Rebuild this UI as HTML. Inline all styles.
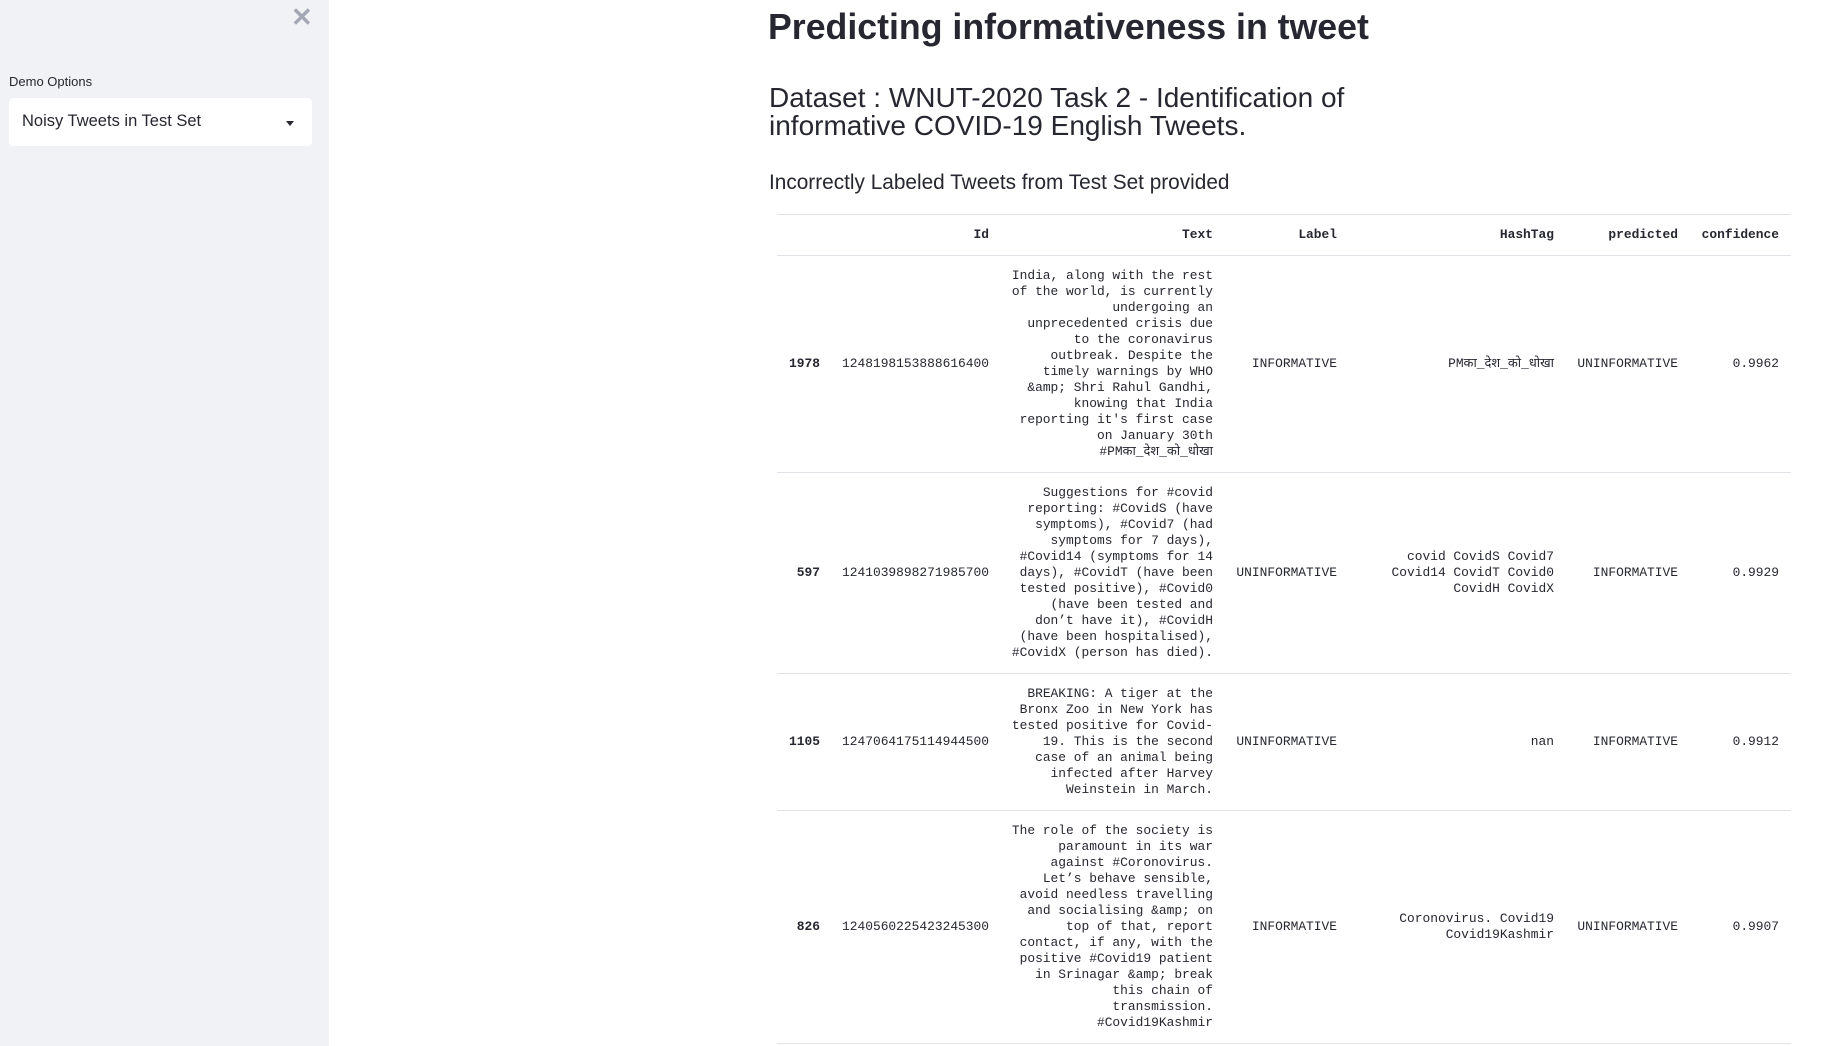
<!DOCTYPE html>
<html><head><meta charset="utf-8">
<style>
body{margin:0;width:1842px;height:1046px;overflow:hidden;background:#fff;font-family:"Liberation Sans",sans-serif;color:#262730;position:relative}
#sidebar{position:absolute;left:0;top:0;width:329px;height:1046px;background:#f0f2f6}
#close{position:absolute;left:291px;top:2px;font-size:26px;color:#a3a8b4;font-weight:bold}
#lbl{position:absolute;left:9px;top:74px;font-size:13px;color:#262730}
#sel{position:absolute;left:9px;top:98px;width:303px;height:48px;background:#fff;border-radius:4px}
#sel span{position:absolute;left:13px;top:14px;font-size:16.5px}
#sel i{position:absolute;right:18px;top:23px;border:4px solid transparent;border-top:5px solid #262730}
h1{position:absolute;left:768px;top:5px;margin:0;font-size:35.7px;font-weight:bold;line-height:44px}
h2{position:absolute;left:769px;top:84px;margin:0;font-size:28px;font-weight:normal;line-height:28px}
h3{position:absolute;left:769px;top:171px;margin:0;font-size:20.8px;font-weight:normal;line-height:24px}
table{position:absolute;left:777px;top:214px;width:1014px;border-collapse:collapse;table-layout:fixed;font-family:"Liberation Mono","Noto Sans CJK SC",monospace;font-size:12.9px;line-height:15.95px;color:#262730}
td,th{text-align:right;padding:0 12px 0 4px;border-top:1px solid #e1e3e8;vertical-align:middle}
th{height:40px;font-weight:bold}
tr.last td{border-bottom:1px solid #e1e3e8}
td.idx{font-weight:bold}
</style></head><body>
<div id="sidebar">
<div id="close">✕</div>
<div id="lbl">Demo Options</div>
<div id="sel"><span>Noisy Tweets in Test Set</span><i></i></div>
</div>
<h1>Predicting informativeness in tweet</h1>
<h2>Dataset : WNUT-2020 Task 2 - Identification of<br>informative COVID-19 English Tweets.</h2>
<h3>Incorrectly Labeled Tweets from Test Set provided</h3>
<table>
<colgroup><col style="width:55px"><col style="width:169px"><col style="width:224px"><col style="width:124px"><col style="width:217px"><col style="width:124px"><col style="width:101px"></colgroup>
<tr><th></th><th>Id</th><th>Text</th><th>Label</th><th>HashTag</th><th>predicted</th><th>confidence</th></tr>
<tr style="height:217px"><td class="idx">1978</td><td>1248198153888616400</td><td>India, along with the rest<br>of the world, is currently<br>undergoing an<br>unprecedented crisis due<br>to the coronavirus<br>outbreak. Despite the<br>timely warnings by WHO<br>&amp;amp; Shri Rahul Gandhi,<br>knowing that India<br>reporting it's first case<br>on January 30th<br>#PMका_देश_को_धोखा</td><td>INFORMATIVE</td><td>PMका_देश_को_धोखा</td><td>UNINFORMATIVE</td><td>0.9962</td></tr>
<tr style="height:201px"><td class="idx">597</td><td>1241039898271985700</td><td>Suggestions for #covid<br>reporting: #CovidS (have<br>symptoms), #Covid7 (had<br>symptoms for 7 days),<br>#Covid14 (symptoms for 14<br>days), #CovidT (have been<br>tested positive), #Covid0<br>(have been tested and<br>don’t have it), #CovidH<br>(have been hospitalised),<br>#CovidX (person has died).</td><td>UNINFORMATIVE</td><td>covid CovidS Covid7<br>Covid14 CovidT Covid0<br>CovidH CovidX</td><td>INFORMATIVE</td><td>0.9929</td></tr>
<tr style="height:137px"><td class="idx">1105</td><td>1247064175114944500</td><td>BREAKING: A tiger at the<br>Bronx Zoo in New York has<br>tested positive for Covid-<br>19. This is the second<br>case of an animal being<br>infected after Harvey<br>Weinstein in March.</td><td>UNINFORMATIVE</td><td>nan</td><td>INFORMATIVE</td><td>0.9912</td></tr>
<tr class="last" style="height:233px"><td class="idx">826</td><td>1240560225423245300</td><td>The role of the society is<br>paramount in its war<br>against #Coronovirus.<br>Let’s behave sensible,<br>avoid needless travelling<br>and socialising &amp;amp; on<br>top of that, report<br>contact, if any, with the<br>positive #Covid19 patient<br>in Srinagar &amp;amp; break<br>this chain of<br>transmission.<br>#Covid19Kashmir</td><td>INFORMATIVE</td><td>Coronovirus. Covid19<br>Covid19Kashmir</td><td>UNINFORMATIVE</td><td>0.9907</td></tr>
</table>
</body></html>
